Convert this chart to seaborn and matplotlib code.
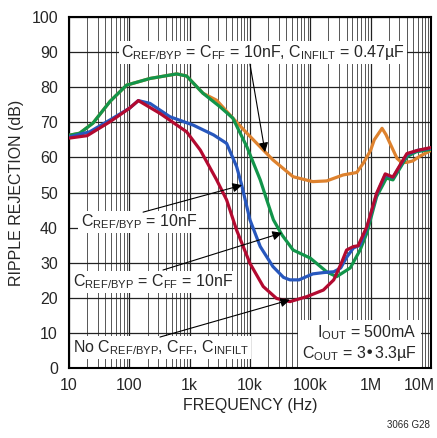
import numpy as np
import pandas as pd
import matplotlib
matplotlib.use('Agg')
import matplotlib.pyplot as plt
import matplotlib.ticker as mticker
import matplotlib.transforms as mtransforms
import seaborn as sns

# Ripple rejection curves (frequency in Hz, rejection in dB)
green_f = [10, 15, 25, 48, 90, 220, 610, 890, 1660, 3200, 5200, 8900, 14800, 19000,
           24500, 34000, 52000, 100e3, 187e3, 273e3, 460e3, 670e3, 870e3, 1.26e6,
           1.83e6, 2.35e6, 4e6, 5.7e6, 10e6]
green_db = [66.3, 66.9, 69.8, 76, 80.6, 82.5, 83.8, 83.2, 78.3, 74.4, 71.2, 63, 53.6, 47.9,
            42.2, 37.9, 33.6, 31.3, 27.4, 26, 28.5, 33.6, 38.5, 48.8,
            54.1, 53.6, 60.2, 61.6, 62.3]

orange_f = [10, 15, 25, 48, 90, 220, 610, 890, 1660, 2800, 5200, 8900, 14800, 24000,
            52000, 110e3, 187e3, 350e3, 590e3, 760e3, 1e6, 1.15e6, 1.55e6, 1.8e6,
            2.1e6, 2.75e6, 3.3e6, 4e6, 5e6, 6.5e6, 10e6]
orange_db = [66.3, 66.9, 69.8, 76, 80.6, 82.5, 83.8, 83.2, 78.3, 76.3, 71.2, 66.9, 63, 59.3,
             54.5, 53.1, 53.3, 55, 55.7, 58.4, 62, 65, 68.3, 66.5,
             64, 59.7, 58.5, 58.6, 59, 60.3, 62]

blue_f = [10, 22, 48, 100, 141, 220, 470, 1150, 2500, 4100, 6000, 7200, 10000, 14800,
          24000, 36000, 46000, 65000, 110e3, 170e3, 245e3, 320e3, 400e3, 520e3, 670e3,
          870e3, 1.26e6, 1.75e6, 2.35e6, 4e6, 6e6, 10e6]
blue_db = [65.8, 67.3, 70.7, 74, 76.2, 75.4, 71.6, 69.2, 66.4, 64, 57.4, 52.5, 42.2, 34.6,
           28.9, 25.8, 25.1, 25.1, 26.8, 27.2, 27.4, 28.5, 31.5, 34.2, 35,
           40, 49.5, 55, 54.3, 60.8, 62, 62.6]

red_f = [10, 20, 48, 100, 141, 325, 890, 1500, 2800, 4100, 6000, 10000, 16600, 27600,
         46000, 87000, 165e3, 245e3, 330e3, 400e3, 520e3, 620e3, 870e3, 1.26e6, 1.75e6,
         2.35e6, 4e6, 6e6, 10e6]
red_db = [65.5, 66.2, 70.2, 74, 76.2, 72.5, 67.3, 62.1, 53.6, 47.9, 39.3, 29.8, 23.2, 19.8,
          18.9, 20.3, 22.2, 25.1, 30, 33.6, 34.6, 34.8, 40.3, 49.8, 55.3,
          54.4, 61.1, 62, 62.8]

x_ticks = [10, 100, 1e3, 1e4, 1e5, 1e6, 1e7]
x_labels = ['10', '100', '1k', '10k', '100k', '1M', '10M']
y_ticks = list(range(0, 101, 10))

sns.set_style('white')
plt.rcParams['font.family'] = ['Liberation Sans', 'DejaVu Sans']
plt.rcParams['mathtext.default'] = 'regular'
plt.rcParams['font.size'] = 11.5

fig = plt.figure(figsize=(4.37, 4.38), dpi=100)
ax = fig.add_axes([0.158, 0.160, 0.828, 0.801])

series = [
    (orange_f, orange_db, '#de822e'),
    (green_f, green_db, '#12954a'),
    (blue_f, blue_db, '#2757bd'),
    (red_f, red_db, '#b30a30'),
]
for f, db, c in series:
    sns.lineplot(x=f, y=db, color=c, lw=2.3, sort=False, estimator=None, ax=ax,
                 solid_capstyle='round', zorder=3)

ax.set_xscale('log')
ax.set_xlim(10, 1e7)
ax.set_ylim(0, 100)
ax.xaxis.set_major_locator(mticker.FixedLocator(x_ticks))
ax.xaxis.set_major_formatter(mticker.FixedFormatter(x_labels))
ax.xaxis.set_minor_locator(mticker.LogLocator(base=10, subs=np.arange(2, 10)))
ax.xaxis.set_minor_formatter(mticker.NullFormatter())
ax.set_yticks(y_ticks)
ax.grid(which='major', color='#222222', lw=0.9, zorder=1)
ax.grid(which='minor', axis='x', color='#555555', lw=0.7, zorder=1)
ax.tick_params(which='both', length=0, labelsize=11.5)
ax.tick_params(axis='x', pad=7)
ax.tick_params(axis='y', pad=8)
for s in ax.spines.values():
    s.set_color('black')
    s.set_linewidth(1.5)
    s.set_visible(True)

# keep "10M" inside the figure, as in the reference
last = ax.get_xticklabels()[-1]
last.set_horizontalalignment('right')
last.set_transform(last.get_transform() + mtransforms.ScaledTranslation(4 / 100, 0, fig.dpi_scale_trans))

ax.set_xlabel('FREQUENCY (Hz)', fontsize=11.5, labelpad=4)
ax.set_ylabel('RIPPLE REJECTION (dB)', fontsize=11.5, labelpad=5)

box = dict(facecolor='white', edgecolor='none', pad=1.5)
arrow = dict(arrowstyle='-|>', color='black', lw=0.8, mutation_scale=14, shrinkA=0, shrinkB=0)

# labels and arrows (positions in data coordinates)
ax.text(16400, 90, r'C$_{REF/BYP}$ = C$_{FF}$ = 10nF, C$_{INFILT}$ = 0.47µF',
        ha='center', va='center', fontsize=11.5, bbox=box, zorder=5)
ax.annotate('', xy=(17800, 61.5), xytext=(10000, 86.6), arrowprops=arrow, zorder=6)

ax.text(15.5, 41.6, r'C$_{REF/BYP}$ = 10nF', ha='left', va='center', fontsize=11.5,
        bbox=box, zorder=5)
ax.annotate('', xy=(7400, 52.1), xytext=(169, 44.4), arrowprops=arrow, zorder=6)

ax.text(11.6, 24.5, r'C$_{REF/BYP}$ = C$_{FF}$ = 10nF', ha='left', va='center', fontsize=11.5,
        bbox=box, zorder=5)
ax.annotate('', xy=(34000, 38.5), xytext=(361, 27.9), arrowprops=arrow, zorder=6)

ax.text(11.6, 5.7, r'No C$_{REF/BYP}$, C$_{FF}$, C$_{INFILT}$', ha='left', va='center',
        fontsize=11.5, bbox=box, zorder=5)
ax.annotate('', xy=(46000, 19.4), xytext=(322, 8.8), arrowprops=arrow, zorder=6)

ax.text(5.86e6, 7.1, 'I$_{OUT}$ = 500mA\nC$_{OUT}$ = 3•3.3µF', ha='right', va='center',
        multialignment='right', fontsize=11.5, linespacing=1.1,
        bbox=dict(facecolor='white', edgecolor='none', pad=3), zorder=5)

fig.text(0.934, 0.03, '3066 G28', ha='center', va='center', fontsize=7)

fig.savefig('out.png', dpi=100)
